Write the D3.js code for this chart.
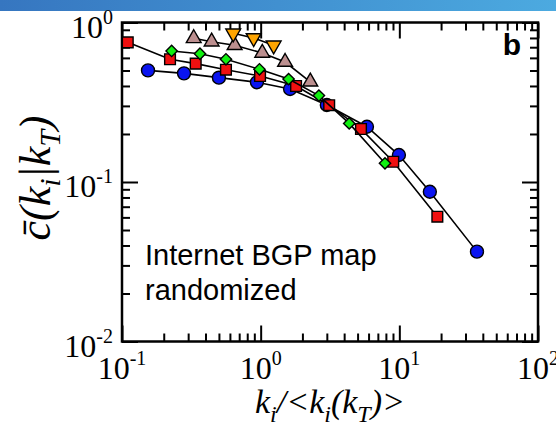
<!DOCTYPE html>
<html>
<head>
<meta charset="utf-8">
<script src="https://cdn.jsdelivr.net/npm/d3@7"></script>
<style>
  html, body { margin: 0; padding: 0; background: #fff; }
  svg { display: block; }
</style>
</head>
<body>
<svg id="chart" width="556" height="431"></svg>
<script>
// Degree-normalised clustering c(k_i | k_T) for several threshold classes k_T
const blueX   = [0.154, 0.280, 0.500, 0.94, 1.63, 3.0, 5.84, 9.93, 16.6, 36.3];
const blueY   = [0.501, 0.480, 0.451, 0.422, 0.383, 0.304, 0.222, 0.1476, 0.0869, 0.0366];
const redX    = [0.110, 0.222, 0.340, 0.562, 0.99, 1.80, 3.12, 5.29, 9.04, 18.8];
const redY    = [0.751, 0.588, 0.552, 0.506, 0.462, 0.400, 0.303, 0.215, 0.134, 0.0606];
const greenX  = [0.228, 0.365, 0.562, 0.98, 1.59, 2.63, 4.35, 7.88];
const greenY  = [0.663, 0.637, 0.588, 0.509, 0.442, 0.348, 0.233, 0.131];
const brownX  = [0.329, 0.443, 0.649, 1.027, 1.50, 2.28];
const brownY  = [0.796, 0.758, 0.720, 0.644, 0.565, 0.425];
const orangeX = [0.634, 0.890, 1.241];
const orangeY = [0.856, 0.80, 0.720];

const xTickExps = [-1, 0, 1, 2];
const yTickExps = [0, -1, -2];
const legendLines = ["Internet BGP map", "randomized"];
const panelLabel = "b";

const series = [
  { x: blueX,   y: blueY,   shape: "circle",   fill: "#0a14f0" },
  { x: redX,    y: redY,    shape: "square",   fill: "#f01010" },
  { x: greenX,  y: greenY,  shape: "diamond",  fill: "#10f010" },
  { x: brownX,  y: brownY,  shape: "triUp",    fill: "#bc8f8f" },
  { x: orangeX, y: orangeY, shape: "triDown",  fill: "#ffa500" }
];

const W = 556, H = 431;
const L = 122, R = 538, T = 22.5, B = 341.5;
const svg = d3.select("#chart");

// header band
const defs = svg.append("defs");
const grad = defs.append("linearGradient").attr("id", "band").attr("x1", 0).attr("x2", 1);
grad.append("stop").attr("offset", 0).attr("stop-color", "#3676c0");
grad.append("stop").attr("offset", 1).attr("stop-color", "#4caae0");
svg.append("rect").attr("x", 0).attr("y", 0).attr("width", W).attr("height", 11).attr("fill", "url(#band)");

const x = d3.scaleLog().domain([0.1, 100]).range([L, R]);
const y = d3.scaleLog().domain([0.01, 1]).range([B, T]);

const majorX = xTickExps.map(e => Math.pow(10, e));
const minorX = [];
for (let e = -1; e < 2; e++) for (let m = 2; m <= 9; m++) minorX.push(m * Math.pow(10, e));
const majorY = yTickExps.map(e => Math.pow(10, e));
const minorY = [];
for (let e = -2; e < 0; e++) for (let m = 2; m <= 9; m++) minorY.push(m * Math.pow(10, e));

function tickAxis(axisFn, scale, vals, size, tx, ty) {
  const g = svg.append("g").attr("transform", `translate(${tx},${ty})`)
    .call(axisFn(scale).tickValues(vals).tickSize(size).tickFormat(""));
  g.select(".domain").remove();
  g.selectAll(".tick line").attr("stroke", "#000").attr("stroke-width", 2);
  return g;
}
const MAJ = 16, MIN = 8;
tickAxis(d3.axisBottom, x, majorX, -MAJ, 0, B);
tickAxis(d3.axisBottom, x, minorX, -MIN, 0, B);
tickAxis(d3.axisTop, x, majorX, -MAJ, 0, T);
tickAxis(d3.axisTop, x, minorX, -MIN, 0, T);
tickAxis(d3.axisLeft, y, majorY, -MAJ, L, 0);
tickAxis(d3.axisLeft, y, minorY, -MIN, L, 0);
tickAxis(d3.axisRight, y, majorY, -MAJ, R, 0);
tickAxis(d3.axisRight, y, minorY, -MIN, R, 0);

svg.append("rect").attr("x", L).attr("y", T).attr("width", R - L).attr("height", B - T)
  .attr("fill", "none").attr("stroke", "#000").attr("stroke-width", 2.5);

// tick labels: 10 with superscript exponent
const serif = "'Liberation Serif', 'Times New Roman', serif";
function powLabel(px, py, exp, anchor) {
  const t = svg.append("text").attr("x", px).attr("y", py)
    .attr("font-family", serif).attr("font-size", 32).attr("text-anchor", anchor).attr("fill", "#000");
  t.append("tspan").text("10");
  t.append("tspan").attr("font-size", 20).attr("dy", -14).text(exp < 0 ? "-" + (-exp) : String(exp));
}
xTickExps.forEach(e => powLabel(x(Math.pow(10, e)), 379, e, "middle"));
yTickExps.forEach(e => powLabel(113, y(Math.pow(10, e)) + 15, e, "end"));

// axis titles
const xt = svg.append("text").attr("x", (L + R) / 2).attr("y", 413)
  .attr("font-family", serif).attr("font-style", "italic").attr("font-size", 34)
  .attr("text-anchor", "middle").attr("fill", "#000");
xt.append("tspan").text("k");
xt.append("tspan").attr("font-size", 24).attr("dy", 9).text("i");
xt.append("tspan").attr("dy", -9).text("/<k");
xt.append("tspan").attr("font-size", 24).attr("dy", 9).text("i");
xt.append("tspan").attr("dy", -9).text("(k");
xt.append("tspan").attr("font-size", 24).attr("dy", 9).text("T");
xt.append("tspan").attr("dy", -9).text(")>");

const yt = svg.append("text").attr("transform", `translate(50,${(T + B) / 2 - 4}) rotate(-90)`)
  .attr("font-family", serif).attr("font-style", "italic").attr("font-size", 44)
  .attr("text-anchor", "middle").attr("fill", "#000");
yt.append("tspan").text("c\u0304(k");
yt.append("tspan").attr("font-size", 30).attr("dy", 10).text("i");
yt.append("tspan").attr("dy", -10).text("|k");
yt.append("tspan").attr("font-size", 30).attr("dy", 10).text("T");
yt.append("tspan").attr("dy", -10).text(")");

// annotations
const sans = "'Liberation Sans', Arial, Helvetica, sans-serif";
legendLines.forEach((s, i) => {
  svg.append("text").attr("x", 145).attr("y", 265 + i * 35)
    .attr("font-family", sans).attr("font-size", 29).attr("fill", "#000").text(s);
});
svg.append("text").attr("x", 521).attr("y", 55).attr("text-anchor", "end")
  .attr("font-family", sans).attr("font-weight", "bold").attr("font-size", 30).attr("fill", "#000").text(panelLabel);

// series: line then markers
const symbolFor = {
  circle:  d3.symbol().type(d3.symbolCircle).size(Math.PI * 42),
  square:  d3.symbol().type(d3.symbolSquare).size(115),
  diamond: d3.symbol().type(d3.symbolSquare).size(64),
  triUp:   d3.symbol().type(d3.symbolTriangle).size(95),
  triDown: d3.symbol().type(d3.symbolTriangle).size(95)
};
const line = d3.line().x(d => x(d[0])).y(d => y(d[1]));

series.forEach(s => {
  const pts = s.x.map((v, i) => [v, s.y[i]]);
  svg.append("path").attr("d", line(pts)).attr("fill", "none")
    .attr("stroke", "#000").attr("stroke-width", 1.6);
  svg.append("g").selectAll("path").data(pts).join("path")
    .attr("d", symbolFor[s.shape])
    .attr("transform", d => {
      let tr = `translate(${x(d[0])},${y(d[1])})`;
      if (s.shape === "diamond") tr += " rotate(45)";
      if (s.shape === "triDown") tr += " rotate(180)";
      return tr;
    })
    .attr("fill", s.fill).attr("stroke", "#000").attr("stroke-width", 1.4);
});
</script>
</body>
</html>
